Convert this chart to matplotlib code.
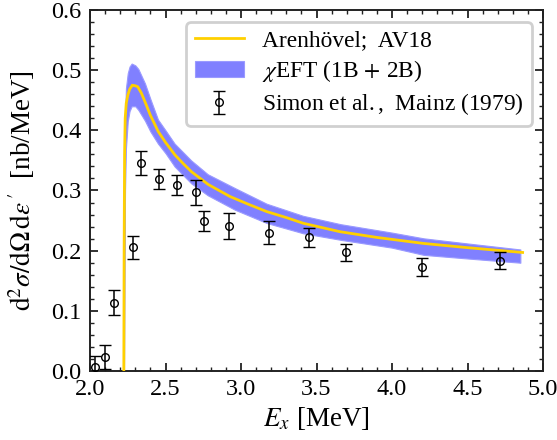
import numpy as np
import matplotlib
matplotlib.use("Agg")
import matplotlib.pyplot as plt
from matplotlib.ticker import MultipleLocator, FormatStrFormatter

plt.rcParams['font.family'] = ['Liberation Serif', 'DejaVu Serif']
plt.rcParams['mathtext.fontset'] = 'stix'

# Arenhövel AV18 curve
av18_E = [2.224, 2.226, 2.229, 2.233, 2.240, 2.250, 2.262, 2.280, 2.300, 2.316, 2.340, 2.364,
          2.40, 2.452, 2.50, 2.563, 2.62, 2.673, 2.783, 2.927, 3.05, 3.17, 3.30, 3.413,
          3.656, 3.90, 4.21, 4.50, 4.865]
av18_y = [0.000, 0.200, 0.360, 0.420, 0.445, 0.458, 0.468, 0.475, 0.474, 0.4725, 0.462, 0.4476,
          0.425, 0.398, 0.380, 0.359, 0.344, 0.331, 0.310, 0.290, 0.277, 0.265, 0.255, 0.2455,
          0.2315, 0.222, 0.212, 0.205, 0.197]

# chiEFT band
band_E = [2.225, 2.228, 2.232, 2.238, 2.250, 2.262, 2.276, 2.30, 2.32, 2.364, 2.40, 2.45,
          2.50, 2.56, 2.67, 2.78, 2.96, 3.17, 3.41, 3.66, 4.00, 4.21, 4.50, 4.85]
band_hi = [0.000, 0.300, 0.420, 0.470, 0.495, 0.506, 0.511, 0.508, 0.502, 0.478, 0.452, 0.418,
           0.400, 0.378, 0.350, 0.327, 0.304, 0.278, 0.258, 0.244, 0.230, 0.2205, 0.212, 0.202]
band_lo = [0.000, 0.180, 0.300, 0.370, 0.415, 0.432, 0.440, 0.440, 0.434, 0.416, 0.398, 0.378,
           0.362, 0.340, 0.312, 0.292, 0.268, 0.246, 0.229, 0.218, 0.205, 0.193, 0.187, 0.180]

# Simon et al., Mainz (1979) data
data_E = [2.031, 2.099, 2.159, 2.285, 2.336, 2.457, 2.576, 2.700, 2.753, 2.918, 3.183,
          3.450, 3.693, 4.196, 4.715]
data_y = [0.007, 0.024, 0.1135, 0.2055, 0.345, 0.319, 0.309, 0.297, 0.250, 0.241, 0.230,
          0.222, 0.197, 0.173, 0.183]
data_err = [0.018, 0.020, 0.021, 0.019, 0.020, 0.016, 0.017, 0.021, 0.0165, 0.021, 0.019,
            0.016, 0.0145, 0.015, 0.014]

fig = plt.figure(figsize=(5.57, 4.40), dpi=100)
ax = fig.add_axes([90/557, 1-371/440, (543-90)/557, (371-10)/440])

band = ax.fill_between(band_E, band_lo, band_hi, color='#8080ff', lw=0.8,
                       edgecolor='#9a9aff', label=r'$\chi$EFT (1B$\,+\,$2B)', zorder=2)
line, = ax.plot(av18_E, av18_y, color='#ffd000', lw=2.0, label='Arenhövel;  AV18', zorder=3)
eb = ax.errorbar(data_E, data_y, yerr=data_err, fmt='o', mfc='none', mec='black', ms=5.5,
                 mew=1.0, ecolor='black', elinewidth=1.1, capsize=4.2, capthick=1.1,
                 label=r'Simon et al.$\,$,  Mainz (1979)', zorder=4)

ax.set_xlim(2.0, 5.0)
ax.set_ylim(0.0, 0.6)
ax.xaxis.set_major_locator(MultipleLocator(0.5))
ax.xaxis.set_minor_locator(MultipleLocator(0.1))
ax.yaxis.set_major_locator(MultipleLocator(0.1))
ax.yaxis.set_minor_locator(MultipleLocator(0.02))
ax.xaxis.set_major_formatter(FormatStrFormatter('%.1f'))
ax.yaxis.set_major_formatter(FormatStrFormatter('%.1f'))
ax.tick_params(which='both', direction='in', top=True, right=True, labelsize=17.5,
               color='#222222')
ax.tick_params(which='major', length=6, width=1.3)
ax.tick_params(which='minor', length=3, width=1.0)
ax.tick_params(axis='x', which='major', pad=6)
ax.tick_params(axis='y', which='major', pad=6)
for s in ax.spines.values():
    s.set_linewidth(1.4)
    s.set_color('#222222')

ax.set_xlabel(r'$E_x$ [MeV]', fontsize=19.5, labelpad=3)
ax.set_ylabel(r'$\mathrm{d}^2\sigma/\mathrm{d}\Omega\,\mathrm{d}\varepsilon^{\,\prime}$  [nb/MeV]',
              fontsize=19.5, labelpad=10)

leg = ax.legend(handles=[line, band, eb], loc='upper right',
                bbox_to_anchor=((532-90)/453, 1-(22-10)/361), borderaxespad=0,
                fontsize=16.8, frameon=True, fancybox=True, edgecolor='#d0d0d0',
                framealpha=1, handlelength=2.1, handletextpad=0.8, labelspacing=0.3,
                borderpad=0.35)
leg.get_frame().set_linewidth(2.0)

fig.savefig('out.png', dpi=100)
